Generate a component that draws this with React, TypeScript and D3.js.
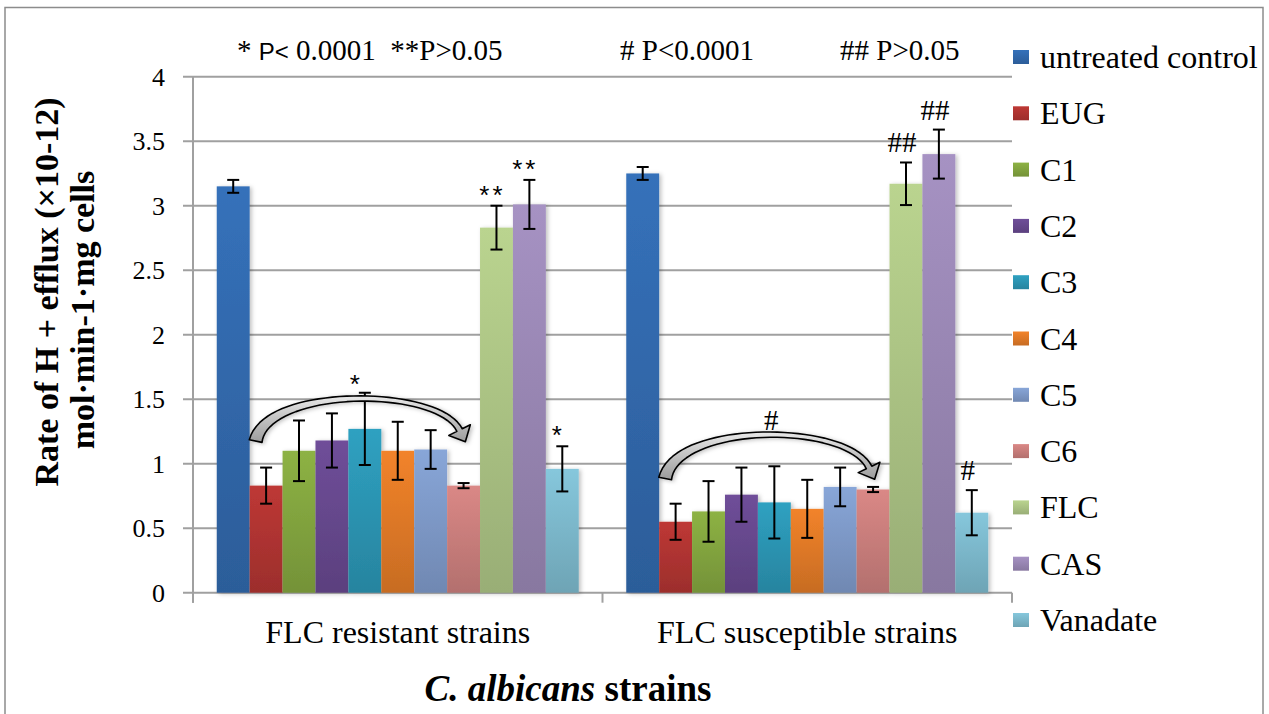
import React from "react";
import * as d3 from "d3";

// chart data
const categories = ["FLC resistant strains", "FLC susceptible strains"];
const seriesNames = ["untreated control", "EUG", "C1", "C2", "C3", "C4", "C5", "C6", "FLC", "CAS", "Vanadate"];
const seriesColors = ["#3571ba", "#be3835", "#8db244", "#6f4e99", "#2fa1c1", "#f2832a", "#88a6d8", "#da8886", "#bad48f", "#a692c3", "#86c7dc"];
const resistantValues = [3.15, 0.83, 1.1, 1.18, 1.27, 1.1, 1.11, 0.83, 2.83, 3.01, 0.96];
const resistantErrors = [0.05, 0.14, 0.235, 0.21, 0.28, 0.225, 0.15, 0.02, 0.17, 0.19, 0.175];
const susceptibleValues = [3.25, 0.55, 0.63, 0.76, 0.7, 0.65, 0.82, 0.8, 3.17, 3.4, 0.62];
const susceptibleErrors = [0.05, 0.14, 0.235, 0.21, 0.28, 0.225, 0.15, 0.02, 0.165, 0.19, 0.175];
const resistantMarks = ["", "", "", "", "", "", "", "", "**", "**", "*"];
const susceptibleMarks = ["", "", "", "", "", "", "", "", "##", "##", "#"];
const arrowLabels = ["*", "#"];
const arrowBase = [1.16, 0.87];
const arrowPeak = [1.52, 1.24];
const yTicks = [0, 0.5, 1, 1.5, 2, 2.5, 3, 3.5, 4];

const W = 1269;
const H = 714;
const serif = "'Liberation Serif', 'Times New Roman', serif";
const sans = "'Liberation Sans', Arial, sans-serif";

const left = 193;
const right = 1012;
const top = 76.7;
const bottom = 592.7;

// curved block arrow between two points, built from a cubic centre line
function arrowShape(xTail: number, xTip: number, yBase: number, yPeak: number) {
  const span = xTip - xTail;
  const p0 = [xTail + 6, yBase - 2];
  const p3 = [xTip - 4, yBase - 13];
  const yMid = yPeak + 2;
  const yc = (yMid - 0.125 * (p0[1] + p3[1])) / 0.75;
  const p1 = [xTail + 0.08 * span, yc];
  const p2 = [xTip - 0.12 * span, yc];
  const pt = (t: number) => {
    const u = 1 - t;
    return [
      u * u * u * p0[0] + 3 * u * u * t * p1[0] + 3 * u * t * t * p2[0] + t * t * t * p3[0],
      u * u * u * p0[1] + 3 * u * u * t * p1[1] + 3 * u * t * t * p2[1] + t * t * t * p3[1],
    ];
  };
  const tan = (t: number) => {
    const u = 1 - t;
    const dx = 3 * u * u * (p1[0] - p0[0]) + 6 * u * t * (p2[0] - p1[0]) + 3 * t * t * (p3[0] - p2[0]);
    const dy = 3 * u * u * (p1[1] - p0[1]) + 6 * u * t * (p2[1] - p1[1]) + 3 * t * t * (p3[1] - p2[1]);
    const l = Math.hypot(dx, dy) || 1;
    return [dx / l, dy / l];
  };
  const sideA: number[][] = [];
  const sideB: number[][] = [];
  const n = 40;
  for (let i = 0; i <= n; i++) {
    const t = i / n;
    const p = pt(t);
    const d = tan(t);
    const nx = -d[1];
    const ny = d[0];
    const w = (4 + 9 * Math.pow(1 - t, 3) + 2 * t * t * t) / 2;
    sideA.push([p[0] + nx * w, p[1] + ny * w]);
    sideB.push([p[0] - nx * w, p[1] - ny * w]);
  }
  const e = pt(1);
  const d = tan(1);
  const nx = -d[1];
  const ny = d[0];
  const headA = [e[0] + nx * 12, e[1] + ny * 12];
  const headB = [e[0] - nx * 12, e[1] - ny * 12];
  const tip = [e[0] + d[0] * 13, e[1] + d[1] * 13];
  const line = d3.line().curve(d3.curveLinear);
  const pts = [...sideA, headA, tip, headB, ...sideB.reverse()] as [number, number][];
  return line(pts) + "Z";
}

export default function App() {
  const x0 = d3.scaleBand<string>().domain(categories).range([left, right]).paddingInner(0.116).paddingOuter(0.058);
  const x1 = d3.scaleBand<string>().domain(seriesNames).range([0, x0.bandwidth()]);
  const y = d3.scaleLinear().domain([0, 4]).range([bottom, top]);

  const groups = [
    { cat: categories[0], values: resistantValues, errors: resistantErrors, marks: resistantMarks },
    { cat: categories[1], values: susceptibleValues, errors: susceptibleErrors, marks: susceptibleMarks },
  ];

  const legendY = (i: number) => 57 + i * 56.3;
  const isStar = (m: string) => m.startsWith("*");

  return (
    <svg width={W} height={H} style={{ position: "absolute", left: 0, top: 0, background: "#fff" }}>
      <defs>
        {seriesColors.map((c, i) => (
          <linearGradient key={i} id={`bar${i}`} x1="0" y1="0" x2="0" y2="1">
            <stop offset="0%" stopColor={c} />
            <stop offset="100%" stopColor={d3.color(c)!.darker(0.55).formatHex()} />
          </linearGradient>
        ))}
        <linearGradient id="arrowFill" x1="0" y1="0" x2="0" y2="1">
          <stop offset="0%" stopColor="#e8e8e8" />
          <stop offset="100%" stopColor="#9c9c9c" />
        </linearGradient>
        <filter id="shadow" x="-20%" y="-20%" width="140%" height="140%">
          <feDropShadow dx="2" dy="1" stdDeviation="2" floodColor="#000" floodOpacity="0.25" />
        </filter>
      </defs>

      <rect x={5} y={7.5} width={1258} height={720} fill="#fff" stroke="#8c8c8c" strokeWidth={1.5} />

      {/* gridlines and y ticks */}
      {yTicks.map((t) => (
        <g key={t}>
          <line x1={left - 10} x2={right} y1={y(t)} y2={y(t)} stroke="#a0a0a0" strokeWidth={2} />
          <text x={165} y={y(t) + 9} textAnchor="end" fontFamily={serif} fontSize={26} fill="#000">
            {d3.format("")(t)}
          </text>
        </g>
      ))}
      <line x1={left} x2={left} y1={top} y2={bottom + 10} stroke="#a0a0a0" strokeWidth={2} />
      {[left, x0(categories[1])! - (x0.step() - x0.bandwidth()) / 2, right].map((xv, i) => (
        <line key={i} x1={xv} x2={xv} y1={bottom} y2={bottom + 10} stroke="#a0a0a0" strokeWidth={2} />
      ))}

      {/* bars */}
      <g filter="url(#shadow)">
        {groups.map((g) =>
          g.values.map((v, i) => (
            <rect
              key={g.cat + i}
              x={x0(g.cat)! + x1(seriesNames[i])!}
              y={y(v)}
              width={x1.bandwidth()}
              height={bottom - y(v)}
              fill={`url(#bar${i})`}
            />
          ))
        )}
      </g>

      {/* error bars and significance marks */}
      {groups.map((g) =>
        g.values.map((v, i) => {
          const cx = x0(g.cat)! + x1(seriesNames[i])! + x1.bandwidth() / 2;
          const hi = y(v + g.errors[i]);
          const lo = y(v - g.errors[i]);
          const m = g.marks[i];
          return (
            <g key={"e" + g.cat + i}>
              <line x1={cx} x2={cx} y1={hi} y2={lo} stroke="#000" strokeWidth={2} />
              <line x1={cx - 6} x2={cx + 6} y1={hi} y2={hi} stroke="#000" strokeWidth={2} />
              <line x1={cx - 6} x2={cx + 6} y1={lo} y2={lo} stroke="#000" strokeWidth={2} />
              {m && (
                <text
                  x={cx - 4}
                  y={isStar(m) ? hi - 2 : hi - 10}
                  textAnchor="middle"
                  fontFamily={isStar(m) ? sans : serif}
                  fontSize={isStar(m) ? 26 : 29}
                  letterSpacing={isStar(m) ? 3 : 0}
                >
                  {m}
                </text>
              )}
            </g>
          );
        })
      )}

      {/* curved arrows */}
      {groups.map((g, gi) => {
        const xTail = x0(g.cat)! + x1(seriesNames[1])!;
        const xTip = x0(g.cat)! + x1(seriesNames[7])! + x1.bandwidth() / 2;
        const d = arrowShape(xTail, xTip, y(arrowBase[gi]), y(arrowPeak[gi]));
        const midX = x0(g.cat)! + x1(seriesNames[4])! + x1.bandwidth() / 2;
        return (
          <g key={"a" + gi}>
            <path d={d} fill="url(#arrowFill)" stroke="#000" strokeWidth={1.6} strokeLinejoin="round" filter="url(#shadow)" />
            <text
              x={gi === 0 ? midX - 10 : midX - 3}
              y={gi === 0 ? y(arrowPeak[gi]) - 4 : y(arrowPeak[gi]) - 3}
              textAnchor="middle"
              fontFamily={gi === 0 ? sans : serif}
              fontSize={gi === 0 ? 26 : 29}
            >
              {arrowLabels[gi]}
            </text>
          </g>
        );
      })}

      {/* p-value notes */}
      <text x={237} y={60} fontFamily={serif} fontSize={29}>
        *{" "}
        <tspan fontFamily={sans} fontSize={24}>
          P&lt;
        </tspan>{" "}
        0.0001{"\u00a0\u00a0"}**P&gt;0.05
      </text>
      <text x={620} y={60} fontFamily={serif} fontSize={29}>
        # P&lt;0.0001
      </text>
      <text x={840} y={60} fontFamily={serif} fontSize={29}>
        ## P&gt;0.05
      </text>

      {/* category labels */}
      {categories.map((c) => (
        <text key={c} x={x0(c)! + x0.bandwidth() / 2} y={643} textAnchor="middle" fontFamily={serif} fontSize={32}>
          {c}
        </text>
      ))}

      {/* axis titles */}
      <text x={568} y={701} textAnchor="middle" fontFamily={serif} fontSize={37} fontWeight="bold">
        <tspan fontStyle="italic">C. albicans</tspan> strains
      </text>
      <text transform="translate(58,292) rotate(-90)" textAnchor="middle" fontFamily={serif} fontSize={34} fontWeight="bold">
        Rate of H + efflux (×10-12)
      </text>
      <text transform="translate(94,310) rotate(-90)" textAnchor="middle" fontFamily={serif} fontSize={34} fontWeight="bold">
        mol·min-1·mg cells
      </text>

      {/* legend */}
      {seriesNames.map((s, i) => (
        <g key={s}>
          <rect x={1013} y={legendY(i) - 7} width={16} height={14} fill={`url(#bar${i})`} />
          <text x={1040} y={legendY(i) + 11} fontFamily={serif} fontSize={32}>
            {s}
          </text>
        </g>
      ))}
    </svg>
  );
}
